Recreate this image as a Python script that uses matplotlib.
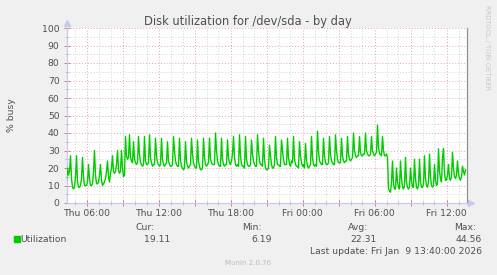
import matplotlib
matplotlib.use("Agg")
import matplotlib.pyplot as plt
import matplotlib.dates as mdates
from matplotlib.ticker import MultipleLocator, FuncFormatter
from matplotlib.patches import Rectangle
import pandas as pd

# 5-minute samples, Thu 04:20 .. Fri 13:35
start = "2026-01-08 04:20"
end = "2026-01-09 13:40"

util = [
    # quiet early morning
    13, 20, 16, 18, 27, 14, 9, 8, 9, 15,
    27, 12, 9, 9, 10, 14, 26, 15, 10, 10,
    10, 12, 22, 14, 10, 10, 11, 18, 30, 16,
    11, 11, 12, 16, 22, 13, 10, 11, 12, 14,
    18, 24, 15, 12, 17, 20, 27, 18, 17, 18,
    22, 30, 19, 17, 18, 30, 20, 15, 16,
    # step up
    38, 27, 25, 26, 39,
    26, 24, 23, 35, 25, 23,
    22, 23, 38, 28, 23, 22,
    21, 22, 38, 24, 22, 22,
    23, 39, 26, 23, 21, 22,
    22, 37, 27, 23, 22, 21,
    22, 37, 25, 22, 21, 22,
    23, 35, 24, 22, 21, 21,
    22, 38, 30, 24, 22, 21,
    21, 37, 25, 21, 20, 19,
    20, 35, 24, 21, 20, 21,
    22, 37, 28, 23, 21, 20,
    20, 36, 24, 21, 19, 19,
    20, 37, 26, 22, 21, 22,
    23, 37, 25, 23, 22, 22,
    22, 40, 30, 24, 22, 21,
    21, 37, 25, 22, 21, 22,
    22, 36, 26, 23, 22, 24,
    28, 38, 26, 22, 21, 22,
    21, 39, 27, 22, 21, 21,
    20, 38, 25, 22, 21, 21,
    22, 36, 28, 24, 22, 21,
    21, 39, 30, 24, 22, 22,
    21, 37, 25, 20, 19, 19,
    20, 33, 27, 22, 20, 20,
    22, 38, 26, 22, 22, 21,
    21, 36, 30, 25, 22, 22,
    22, 37, 26, 22, 21, 24,
    23, 38, 25, 22, 21, 21,
    20, 35, 27, 23, 21, 22,
    20, 34, 25, 21, 20, 21,
    22, 38, 26, 22, 21, 22,
    21, 41, 30, 24, 23, 22,
    22, 37, 27, 23, 22, 22,
    23, 38, 28, 24, 23, 22,
    22, 39, 30, 25, 23, 23,
    23, 37, 27, 24, 23, 24,
    24, 38, 28, 25, 24, 25,
    26, 40, 30, 27, 26, 27,
    27, 38, 29, 27, 27, 28,
    28, 40, 30, 28, 27, 27,
    28, 38, 30, 28, 27, 28,
    29, 44.56, 32, 28, 28, 27,
    38, 30, 27, 27, 28, 26,
    # drop after 07:00
    8, 7, 6.19, 12, 24, 11,
    8, 8, 20, 12, 9, 8,
    24, 14, 9, 8, 10, 26,
    12, 9, 8, 9, 20, 13,
    9, 9, 25, 14, 9, 8,
    10, 25, 12, 9, 9, 11,
    27, 14, 10, 9, 12, 28,
    15, 10, 9, 10, 22, 13,
    10, 11, 31, 18, 14, 12,
    26, 31, 17, 13, 13, 16,
    22, 14, 13, 15, 29, 20,
    15, 14, 16, 24, 17, 14,
    13, 15, 21, 18, 16, 19.11,
]

stat_names = ["Cur:", "Min:", "Avg:", "Max:"]
stat_values = ["19.11", "6.19", "22.31", "44.56"]
last_update = "Last update: Fri Jan  9 13:40:00 2026"

times = pd.date_range(start, periods=len(util), freq="5min")

W, H = 497, 275
fig = plt.figure(figsize=(W / 100, H / 100), dpi=100, facecolor="#F0F0F0")
ax = fig.add_axes([66.5 / W, 1 - 203 / H, 400 / W, 175 / H], facecolor="white")

def fx(x):
    return x / W

def fy(y):
    return 1 - y / H

txt = "#505050"
ax.plot(times, util, color="#00CC00", lw=1.0, zorder=3)

ax.set_xlim(pd.Timestamp(start), pd.Timestamp(end))
ax.set_ylim(0, 100)

ax.xaxis.set_major_locator(mdates.HourLocator(byhour=range(0, 24, 3)))
ax.xaxis.set_minor_locator(mdates.HourLocator())
days = {3: "Thu", 4: "Fri"}
def xfmt(v, pos):
    d = mdates.num2date(v)
    if d.hour % 6:
        return ""
    return "%s %02d:00" % (days[d.weekday()], d.hour)
ax.xaxis.set_major_formatter(FuncFormatter(xfmt))
ax.yaxis.set_major_locator(MultipleLocator(10))
ax.yaxis.set_minor_locator(MultipleLocator(5))

dot = (0, (1, 2))
ax.grid(which="major", color="#E0A8A8", linestyle=dot, lw=0.7)
ax.grid(which="minor", color="#D4D4D4", linestyle=dot, lw=0.7)
ax.set_axisbelow(True)

ax.tick_params(which="major", direction="inout", length=4, width=0.7,
               color="#D08080", labelsize=6.7, labelcolor=txt)
ax.tick_params(which="minor", direction="inout", length=3, width=0.7,
               color="#BBBBBB")
ax.tick_params(axis="x", which="major", pad=2)
ax.tick_params(axis="y", which="major", pad=3)

ax.spines["top"].set_visible(False)
ax.spines["left"].set_color("#C8C8F0")
ax.spines["bottom"].set_color("#C8C8F0")
ax.spines["right"].set_color("#909090")
for s in ax.spines.values():
    s.set_linewidth(0.9)
ax.plot([0], [1.03], marker="^", ms=4, color="#C8C8F0", transform=ax.transAxes,
        clip_on=False)
ax.plot([1.01], [0], marker=">", ms=4, color="#C8C8F0", transform=ax.transAxes,
        clip_on=False)
ax.plot([1, 1.01], [0, 0], color="#C8C8F0", lw=0.9, transform=ax.transAxes,
        clip_on=False)

fig.text(fx(248), fy(25.5), "Disk utilization for /dev/sda - by day",
         ha="center", va="baseline", fontsize=8.3, color=txt)
fig.text(fx(11), fy(115), "% busy", rotation=90, ha="center", va="center",
         fontsize=6.7, color=txt)
fig.text(fx(487.5), fy(5), "RRDTOOL / TOBI OETIKER", rotation=270,
         ha="center", va="top", fontsize=4.8, color="#C8C8C8")

# legend block
stat_x = [155, 262, 368, 476]
val_x = [170, 272, 377, 482]
for name, xh in zip(stat_names, stat_x):
    fig.text(fx(xh), fy(230.5), name, ha="right", va="baseline",
             fontsize=6.7, color=txt)
for v, xv in zip(stat_values, val_x):
    fig.text(fx(xv), fy(242.5), v, ha="right", va="baseline",
             fontsize=6.7, color=txt)
fig.patches.append(Rectangle((fx(14), fy(242)), 6 / W, 6 / H,
                             transform=fig.transFigure, color="#00CC00"))
fig.text(fx(20.5), fy(242.5), "Utilization", ha="left", va="baseline",
         fontsize=6.7, color=txt)
fig.text(fx(482), fy(254.5), last_update, ha="right", va="baseline",
         fontsize=6.7, color=txt)
fig.text(fx(248), fy(265), "Munin 2.0.76", ha="center", va="baseline",
         fontsize=5, color="#BBBBBB")

fig.savefig("out.png", dpi=100, facecolor=fig.get_facecolor())
